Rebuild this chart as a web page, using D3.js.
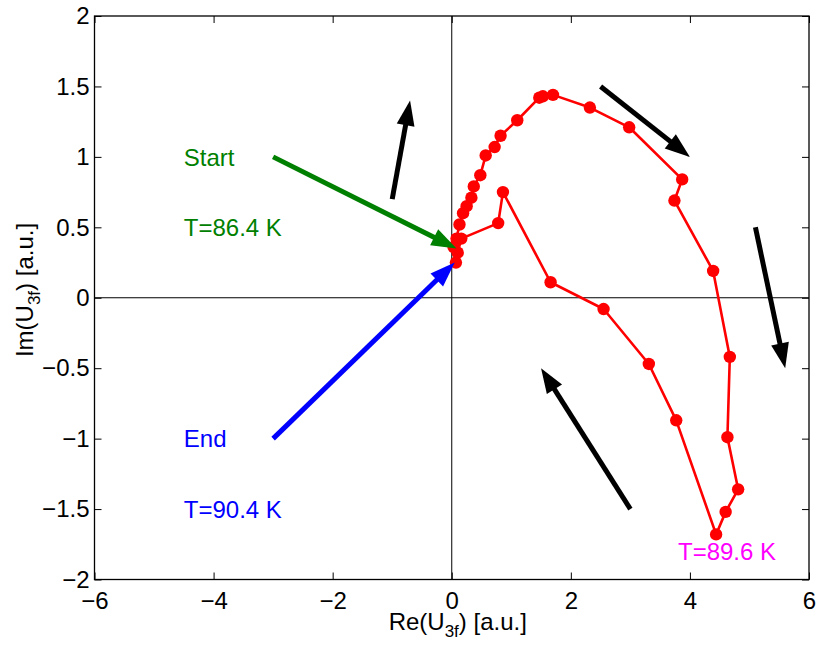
<!DOCTYPE html>
<html>
<head>
<meta charset="utf-8">
<script src="https://cdn.jsdelivr.net/npm/d3@7"></script>
<style>
  body { margin: 0; background: #fff; }
  text { font-family: "Liberation Sans", Arial, Helvetica, sans-serif; }
</style>
</head>
<body>
<svg id="chart" width="818" height="647"></svg>
<script>
// trajectory of U_3f in the complex plane
var reValues = [0.03, 0.08, 0.13, 0.19, 0.25, 0.33, 0.37, 0.48, 0.57, 0.72, 0.82, 1.10, 1.47, 1.53, 1.70, 2.32, 2.98,
                3.87, 3.74, 4.39, 4.67, 4.63, 4.81, 4.60, 4.44, 3.77, 3.31, 2.55, 1.66, 0.86, 0.78, 0.16, 0.10, 0.07];
var imValues = [0.36, 0.42, 0.52, 0.60, 0.65, 0.71, 0.79, 0.87, 1.01, 1.07, 1.15, 1.26, 1.42, 1.43, 1.44, 1.35, 1.21,
                0.84, 0.69, 0.19, -0.42, -0.99, -1.36, -1.52, -1.68, -0.87, -0.47, -0.08, 0.11, 0.75, 0.53, 0.42, 0.32, 0.25];

var xTicks = [-6, -4, -2, 0, 2, 4, 6];
var yTicks = [-2, -1.5, -1, -0.5, 0, 0.5, 1, 1.5, 2];

// annotation arrows: [x0, y0, x1, y1, colour]
var arrows = [
    [-3, 1, 0.08, 0.35, "#008000"],
    [-3, -1, 0.05, 0.25, "#0000ff"],
    [-1, 0.7, -0.7, 1.4, "#000"],
    [2.5, 1.5, 4, 1, "#000"],
    [5.1, 0.5, 5.6, -0.5, "#000"],
    [3, -1.5, 1.5, -0.5, "#000"]
];

var labels = [
    {"x": -4.5, "y": 1, "text": "Start", "color": "#008000"},
    {"x": -4.5, "y": 0.5, "text": "T=86.4 K", "color": "#008000"},
    {"x": -4.5, "y": -1, "text": "End", "color": "#0000ff"},
    {"x": -4.5, "y": -1.5, "text": "T=90.4 K", "color": "#0000ff"},
    {"x": 3.8, "y": -1.8, "text": "T=89.6 K", "color": "#ff00ff"}
];

var svg = d3.select("#chart");
var pLeft = 94.5, pRight = 809, pTop = 16, pBottom = 579.5;
var fs = 24;

var x = d3.scaleLinear().domain([-6, 6]).range([pLeft, pRight]);
var y = d3.scaleLinear().domain([-2, 2]).range([pBottom, pTop]);

function fmt(v) { return String(v).replace("-", "\u2212"); }

// zero lines
svg.append("line").attr("x1", x(0)).attr("x2", x(0)).attr("y1", pTop).attr("y2", pBottom)
    .attr("stroke", "#000").attr("stroke-width", 1);
svg.append("line").attr("x1", pLeft).attr("x2", pRight).attr("y1", y(0)).attr("y2", y(0))
    .attr("stroke", "#000").attr("stroke-width", 1);

// axes, MATLAB style: ticks inside on all four sides
var tk = 7;
svg.append("g").attr("transform", "translate(0," + pBottom + ")")
    .call(d3.axisBottom(x).tickValues(xTicks).tickSize(-tk).tickPadding(12).tickFormat(fmt));
svg.append("g").attr("transform", "translate(0," + pTop + ")")
    .call(d3.axisTop(x).tickValues(xTicks).tickSize(-tk).tickFormat(""));
svg.append("g").attr("transform", "translate(" + pLeft + ",0)")
    .call(d3.axisLeft(y).tickValues(yTicks).tickSize(-tk).tickPadding(5).tickFormat(fmt));
svg.append("g").attr("transform", "translate(" + pRight + ",0)")
    .call(d3.axisRight(y).tickValues(yTicks).tickSize(-tk).tickFormat(""));

svg.selectAll(".domain").remove();
svg.selectAll(".tick line").attr("stroke", "#000").attr("stroke-width", 1);
svg.selectAll(".tick text").attr("font-size", fs).attr("fill", "#000")
    .style("font-family", "'Liberation Sans', Arial, sans-serif");
svg.append("rect").attr("x", pLeft).attr("y", pTop).attr("width", pRight - pLeft).attr("height", pBottom - pTop)
    .attr("fill", "none").attr("stroke", "#000").attr("stroke-width", 1.3);

// axis labels
var xl = svg.append("text").attr("x", x(0) + 6).attr("y", 630).attr("text-anchor", "middle")
    .attr("font-size", fs);
xl.append("tspan").text("Re(U");
xl.append("tspan").attr("font-size", 17).attr("dy", 7).text("3f");
xl.append("tspan").attr("dy", -7).text(") [a.u.]");

var yl = svg.append("text").attr("transform", "translate(33,290) rotate(-90)").attr("text-anchor", "middle")
    .attr("font-size", fs);
yl.append("tspan").text("Im(U");
yl.append("tspan").attr("font-size", 17).attr("dy", 7).text("3f");
yl.append("tspan").attr("dy", -7).text(") [a.u.]");

// data line and markers
var pts = reValues.map(function(d, i) { return [d, imValues[i]]; });
svg.append("path").datum(pts)
    .attr("d", d3.line().x(function(d) { return x(d[0]); }).y(function(d) { return y(d[1]); }))
    .attr("fill", "none").attr("stroke", "#ff0000").attr("stroke-width", 2.6).attr("stroke-linejoin", "round");
svg.selectAll("circle.pt").data(pts).enter().append("circle").attr("class", "pt")
    .attr("cx", function(d) { return x(d[0]); })
    .attr("cy", function(d) { return y(d[1]); })
    .attr("r", 6.2).attr("fill", "#ff0000");

// arrows
arrows.forEach(function(a) {
    var x0 = x(a[0]), y0 = y(a[1]), x1 = x(a[2]), y1 = y(a[3]);
    var dx = x1 - x0, dy = y1 - y0, len = Math.sqrt(dx * dx + dy * dy);
    var ux = dx / len, uy = dy / len, nx = -uy, ny = ux;
    var hl = 25, hw = 9;
    var bx = x1 - ux * hl, by = y1 - uy * hl;
    svg.append("line").attr("x1", x0).attr("y1", y0).attr("x2", bx + ux * 2).attr("y2", by + uy * 2)
        .attr("stroke", a[4]).attr("stroke-width", 5);
    svg.append("path")
        .attr("d", "M" + x1 + "," + y1 + "L" + (bx + nx * hw) + "," + (by + ny * hw) +
            "L" + (bx - nx * hw) + "," + (by - ny * hw) + "Z")
        .attr("fill", a[4]);
});

// text annotations
svg.selectAll("text.ann").data(labels).enter().append("text").attr("class", "ann")
    .attr("x", function(d) { return x(d.x); })
    .attr("y", function(d) { return y(d.y); })
    .attr("dy", "0.36em")
    .attr("font-size", fs)
    .attr("fill", function(d) { return d.color; })
    .text(function(d) { return d.text; });
</script>
</body>
</html>
